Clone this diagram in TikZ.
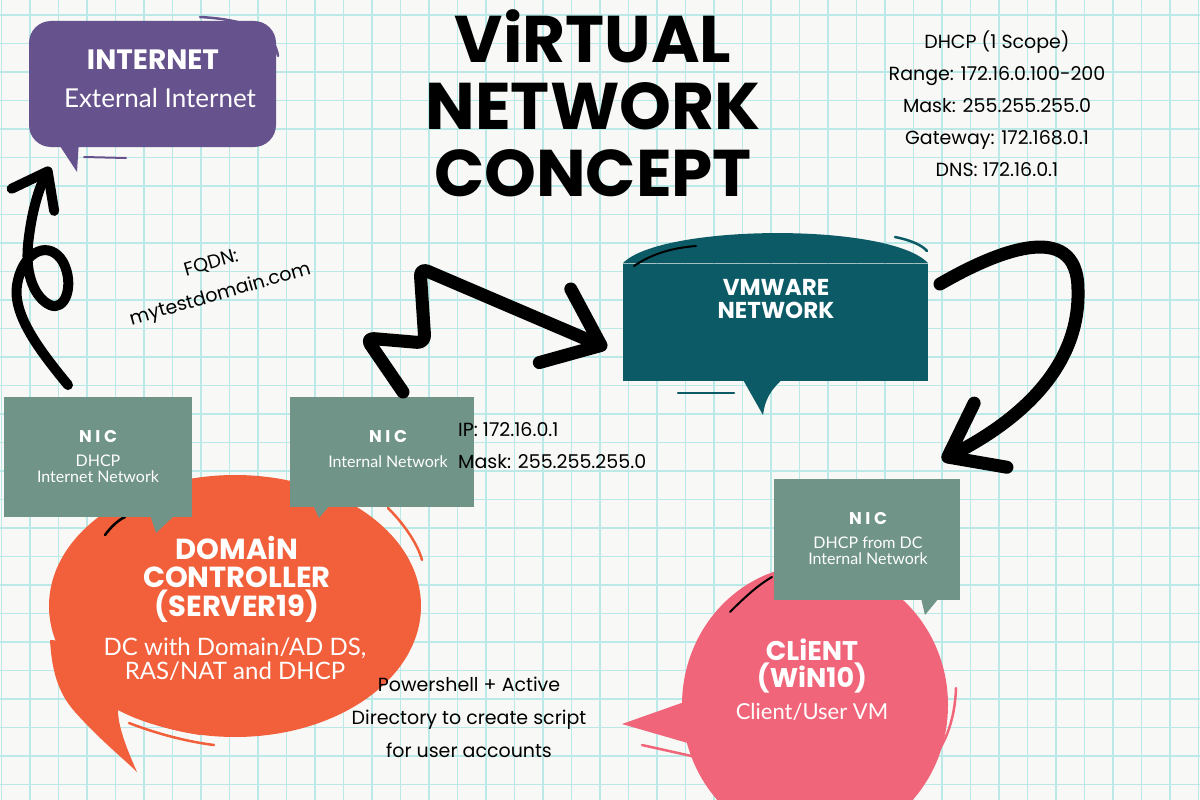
\documentclass[tikz,border=0pt]{standalone}
\usepackage{fontspec}
\setmainfont{Lato}
\newfontfamily\handfont{Poppins}
\usetikzlibrary{arrows.meta,positioning,shapes.geometric}

\definecolor{paper}{RGB}{248,249,246}
\definecolor{gridcyan}{RGB}{186,233,231}
\definecolor{inetpurple}{RGB}{102,82,140}
\definecolor{vmteal}{RGB}{11,90,102}
\definecolor{nicgreen}{RGB}{112,148,136}
\definecolor{dcorange}{RGB}{241,96,59}
\definecolor{clientpink}{RGB}{240,101,122}

\begin{document}
\begin{tikzpicture}[x=1pt,y=-1pt,line cap=round,line join=round,
                    scribble/.style={draw=black,line width=13},
                    deco/.style={line width=2.5}]
  \tikzstyle{bubbletext}=[text=white,inner sep=0pt]
  \tikzstyle{headtext}=[bubbletext,font=\handfont\bfseries\fontsize{28}{28.5}\selectfont,align=center]
  \tikzstyle{nic}=[rectangle,fill=nicgreen,inner sep=0pt]
  \tikzstyle{nichead}=[bubbletext,font=\handfont\bfseries\fontsize{17}{17}\selectfont]
  \tikzstyle{nicsub}=[bubbletext,font=\fontsize{16}{16}\selectfont,align=center]
  \tikzstyle{note}=[inner sep=0pt,font=\handfont\fontsize{19}{32}\selectfont,align=center]

  % paper
  \fill[paper] (0,0) rectangle (1200,800);
  \useasboundingbox (0,0) rectangle (1200,800);
  \foreach \gx in {1.5,30,...,1200}
    \draw[gridcyan,line width=1.4] (\gx,0) -- (\gx,800);
  \foreach \gy in {15,43.5,...,800}
    \draw[gridcyan,line width=1.4] (0,\gy) -- (1200,\gy);

  % title and notes
  \node[inner sep=0pt,align=center,
        font=\handfont\bfseries\fontsize{66}{67}\selectfont] (title) at (593,103)
        {ViRTUAL\\NETWORK\\CONCEPT};
  \node[note] (dhcp) at (997,104)
        {DHCP (1 Scope)\\Range: 172.16.0.100-200\\Mask: 255.255.255.0\\Gateway: 172.168.0.1\\DNS: 172.16.0.1};
  \node[note,rotate=16] (fqdn) at (216,280) {FQDN:\\mytestdomain.com};

  % internet
  \node[fill=inetpurple,rounded corners=22,minimum width=247,minimum height=126,
        inner sep=0pt] (inet) at (152.5,84) {};
  \fill[inetpurple] (56,140) -- (77,172) -- (79,140) -- cycle;
  \draw[inetpurple,deco] (200,17) .. controls (255,20) and (275,35) .. (278,56);
  \draw[inetpurple,line width=2] (84,157) -- (126,158);
  \node[headtext] (inethead) at (153,60) {INTERNET};
  \node[bubbletext,font=\fontsize{26}{26}\selectfont] (inetsub) at (160,98) {External Internet};

  % vmware
  \node[fill=vmteal,minimum width=305,minimum height=117,inner sep=0pt] (vmw) at (775.5,322) {};
  \fill[vmteal] (vmw.north west) .. controls (660,224) and (890,222) .. (vmw.north east) -- cycle;
  \fill[vmteal] (742,378) -- (763,415) .. controls (765,400) and (770,390) .. (784,378) -- cycle;
  \draw[black,line width=2] (634,266) .. controls (650,255) and (670,248) .. (696,246);
  \draw[vmteal,deco] (895,237) .. controls (910,240) and (922,245) .. (927,251);
  \draw[vmteal,deco] (678,393) -- (734,393);
  \node[headtext,font=\handfont\bfseries\fontsize{23}{23}\selectfont] (vmwtext) at (776,299)
        {VMWARE\\NETWORK};

  % domain controller
  \node[ellipse,fill=dcorange,minimum width=372,minimum height=262,inner sep=0pt] (dc) at (235,606) {};
  \fill[dcorange] (50,640) .. controls (52,675) and (60,695) .. (75,712)
        .. controls (100,740) and (125,760) .. (137,772)
        .. controls (125,745) and (118,725) .. (118,710)
        .. controls (140,722) and (170,730) .. (200,735) -- (200,650) -- cycle;
  \draw[dcorange,deco] (388,508) .. controls (405,525) and (418,545) .. (422,560);
  \draw[dcorange,deco] (129,723) .. controls (160,735) and (190,742) .. (214,745);
  \draw[black,deco] (105,535) .. controls (110,528) and (118,520) .. (125,517);
  \node[headtext,font=\handfont\bfseries\fontsize{29}{28.5}\selectfont] (dchead) at (237,579)
        {DOMAiN\\CONTROLLER\\(SERVER19)};
  \node[bubbletext,font=\fontsize{24}{24}\selectfont,align=center] (dcsub) at (235,659)
        {DC with Domain/AD DS,\\RAS/NAT and DHCP};

  % client
  \node[ellipse,fill=clientpink,minimum width=266,minimum height=280,inner sep=0pt] (client) at (815,705) {};
  \fill[clientpink] (690,700) -- (622,724) -- (705,748) -- cycle;
  \draw[clientpink,deco] (956,688) .. controls (955,720) and (945,750) .. (921,772);
  \draw[clientpink,deco] (642,745) -- (696,757);
  \draw[black,line width=2] (730,612) .. controls (745,597) and (758,585) .. (772,577);
  \node[headtext,font=\handfont\bfseries\fontsize{27}{27}\selectfont] (clienthead) at (812,666)
        {CLiENT\\(WiN10)};
  \node[bubbletext,font=\fontsize{22}{22}\selectfont] (clientsub) at (812,712) {Client/User VM};

  % nics
  \node[nic,minimum width=188,minimum height=120] (nic1) at (98,457) {};
  \fill[nicgreen] (150,515) -- (156,533) -- (175,515) -- cycle;
  \node[nichead] (nic1head) at (98,437) {N I C};
  \node[nicsub] (nic1sub) at (98,469) {DHCP\\Internet Network};

  \node[nic,minimum width=184,minimum height=110] (nic2) at (382,452) {};
  \fill[nicgreen] (313,505) -- (319,518) -- (330,505) -- cycle;
  \node[nichead] (nic2head) at (388,437) {N I C};
  \node[nicsub] (nic2sub) at (388,462) {Internal Network};

  \node[nic,minimum width=186,minimum height=121] (nic3) at (867,539.5) {};
  \fill[nicgreen] (921,598) -- (925,615) -- (939,598) -- cycle;
  \node[nichead] (nic3head) at (868,519) {N I C};
  \node[nicsub] (nic3sub) at (868,551) {DHCP from DC\\Internal Network};

  \node[note,align=left,anchor=west] (ipinfo) at (458,446) {IP: 172.16.0.1\\Mask: 255.255.255.0};
  \node[note,font=\handfont\fontsize{19}{33}\selectfont] (pstext) at (469,717)
        {Powershell + Active\\Directory to create script\\for user accounts};

  % arrows
  \coordinate (upstart) at (68,385);
  \coordinate (upend) at (50,167);
  \coordinate (zigstart) at (403,392);
  \coordinate (zigend) at (607,348);
  \coordinate (loopstart) at (940,284);
  \coordinate (loopend) at (942,460);

  \draw[scribble,line width=10,-{Straight Barb[length=32pt,width=48pt,round]}]
    (upstart) .. controls (35,345) and (10,310) .. (18,280)
    .. controls (25,250) and (50,240) .. (63,262)
    .. controls (75,285) and (65,312) .. (50,305)
    .. controls (35,298) and (25,275) .. (28,245)
    .. controls (31,215) and (38,190) .. (upend);
  \draw[scribble,rounded corners=8,-{Straight Barb[length=50pt,width=80pt,round]}]
    (zigstart) -- (366,338) -- (425,343) -- (420,268) -- (zigend);
  \draw[scribble,-{Straight Barb[length=48pt,width=72pt,round]}]
    (loopstart) .. controls (990,255) and (1078,215) .. (1078,290)
    .. controls (1080,360) and (1030,415) .. (loopend);
\end{tikzpicture}
\end{document}
